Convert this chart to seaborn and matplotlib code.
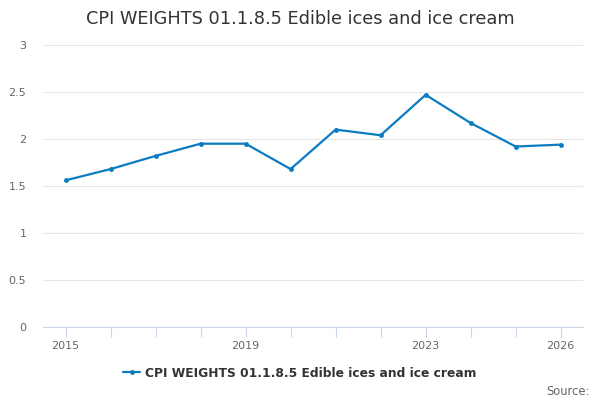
import pandas as pd
import matplotlib
matplotlib.use('Agg')
import matplotlib.pyplot as plt
import seaborn as sns

years = [2015, 2016, 2017, 2018, 2019, 2020, 2021, 2022, 2023, 2024, 2025, 2026]
weights = [1.56, 1.68, 1.82, 1.95, 1.95, 1.68, 2.10, 2.04, 2.47, 2.17, 1.92, 1.94]
labelled_years = [2015, 2019, 2023, 2026]
series_name = 'CPI WEIGHTS 01.1.8.5 Edible ices and ice cream'

df = pd.DataFrame({'year': years, 'weight': weights})

sns.set_theme(style='whitegrid')
plt.rcParams['font.family'] = ['DejaVu Sans']

fig = plt.figure(figsize=(6, 4), dpi=100)
ax = fig.add_axes([0.0717, 0.1825, 0.9003, 0.705])

linea = '#0b7cc1'
sns.lineplot(data=df, x='year', y='weight', ax=ax, color=linea, linewidth=1.6,
             marker='o', markersize=3.5, markeredgewidth=0, label=series_name)

ax.set_xlim(2014.5, 2026.5)
ax.set_ylim(0, 3)
ax.set_yticks([0, 0.5, 1, 1.5, 2, 2.5, 3])
ax.set_yticklabels(['0', '0.5', '1', '1.5', '2', '2.5', '3'])
ax.set_xticks(years, minor=True)
ax.set_xticks(labelled_years)
ax.set_xticklabels([str(y) for y in labelled_years])
ax.set_xlabel('')
ax.set_ylabel('')

ax.grid(axis='y', color='#e6e6e6', linewidth=0.8)
ax.grid(axis='x', visible=False)
ax.grid(axis='x', which='minor', visible=False)
for s in ['top', 'right', 'left']:
    ax.spines[s].set_visible(False)
ax.spines['bottom'].set_color('#ccd6eb')
ax.spines['bottom'].set_linewidth(0.8)

ax.tick_params(axis='y', length=0, labelsize=8, labelcolor='#666666', pad=12)
ax.tick_params(axis='x', which='both', direction='out', length=7, width=0.8,
               color='#ccd6eb', bottom=True)
ax.tick_params(axis='x', labelsize=8, labelcolor='#666666', pad=3)

fig.suptitle(series_name, x=0.5, y=0.975, fontsize=12.8, color='#333333')

ax.get_legend().remove()
handles, labels = ax.get_legend_handles_labels()
leg = fig.legend(handles, labels, loc='center', bbox_to_anchor=(0.5, 0.067),
                 frameon=False, handlelength=1.4, handletextpad=0.4,
                 prop={'weight': 'bold', 'size': 8.8})
for t in leg.get_texts():
    t.set_color('#333333')

fig.text(0.983, 0.022, 'Source:', ha='right', va='center', fontsize=8.3, color='#666666')

fig.savefig('out.png', dpi=100)
